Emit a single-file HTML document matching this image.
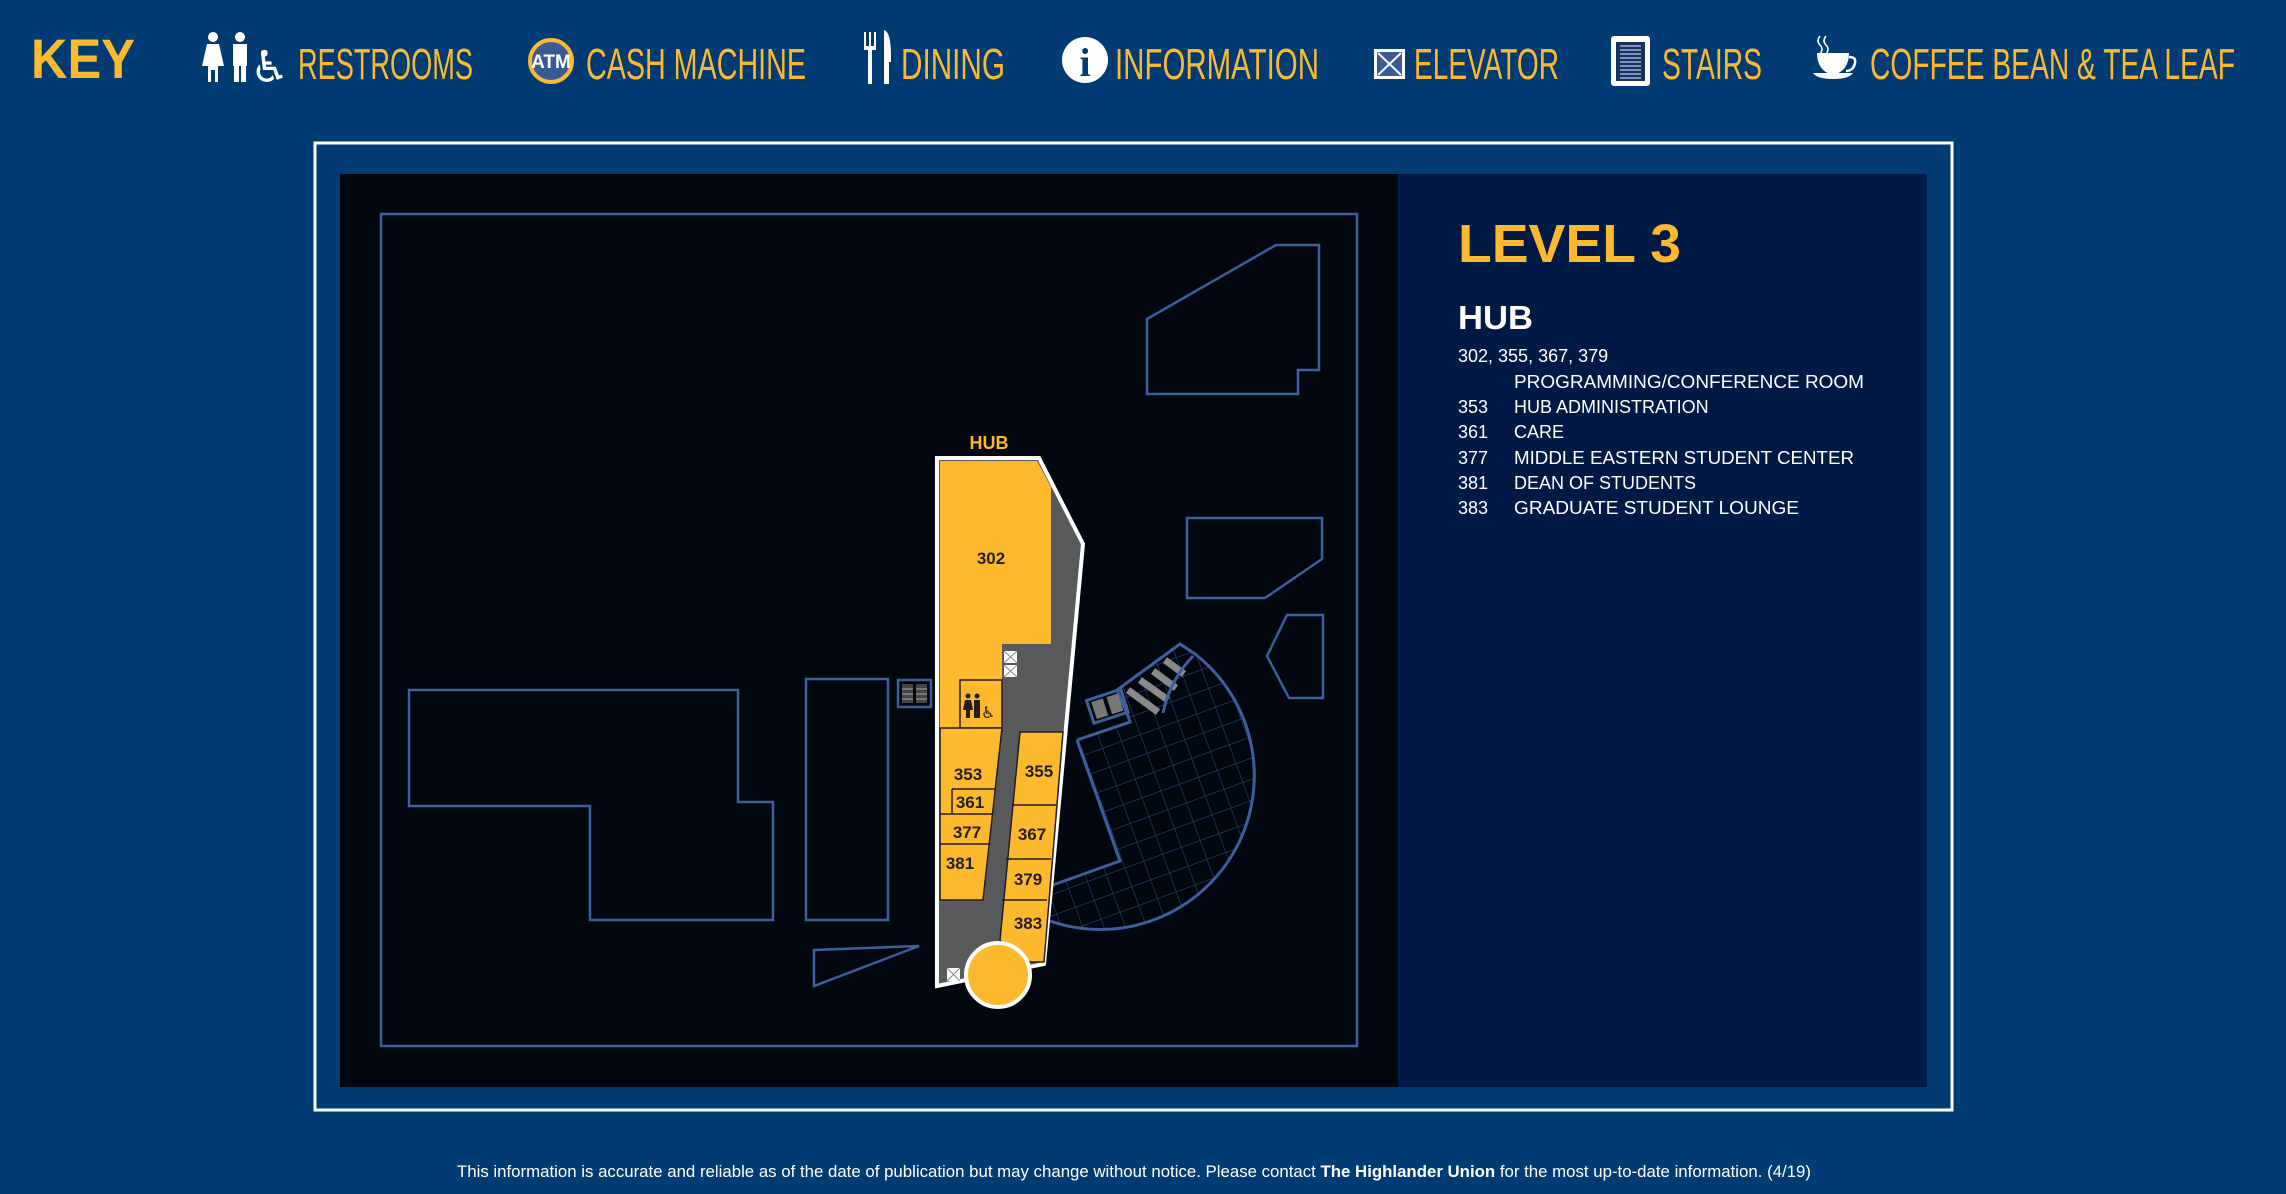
<!DOCTYPE html>
<html><head><meta charset="utf-8"><style>
html,body{margin:0;padding:0;background:#003c73;}
svg{display:block}
.hd{font-family:"Liberation Sans Narrow","Liberation Sans",sans-serif;fill:#fdb92e;font-size:44px}
.rm{font-family:"Liberation Sans",sans-serif;font-weight:bold;fill:#231f20;font-size:17px;text-anchor:middle}
.pl{font-family:"Liberation Sans",sans-serif;fill:#fff;font-size:18px}
</style></head><body>
<svg width="2286" height="1194" viewBox="0 0 2286 1194" xmlns="http://www.w3.org/2000/svg">
<defs>
<pattern id="grid" width="20" height="20" patternUnits="userSpaceOnUse" patternTransform="rotate(-20)">
<path d="M0 0H20M0 0V20" stroke="#2a4675" stroke-width="1.2" fill="none"/>
</pattern>
<clipPath id="pc"><path d="M1077,740 L1120,861 L1050,886 L1050,921 A154 154 0 0 0 1195,654 L1180,644 L1117,690 L1127,713 L1130,722 Z"/></clipPath>
</defs>
<rect width="2286" height="1194" fill="#003c73"/>

<!-- header -->
<text x="31" y="78" font-family="Liberation Sans,sans-serif" font-weight="bold" font-size="56" fill="#fdb92e" textLength="104" lengthAdjust="spacingAndGlyphs">KEY</text>
<g fill="#fff">
<circle cx="213" cy="37" r="5"/><path d="M207,44h12l5,22h-6v16h-3v-12h-4v12h-3v-16h-6z"/>
<circle cx="240" cy="37" r="5"/><rect x="233" y="44" width="14" height="22"/><rect x="234" y="62" width="5" height="20"/><rect x="241" y="62" width="5" height="20"/>
</g>
<text x="250" y="82" font-family="DejaVu Sans,sans-serif" font-size="44" fill="#fff">♿</text>
<text class="hd" x="298" y="79" textLength="175" lengthAdjust="spacingAndGlyphs">RESTROOMS</text>
<circle cx="551" cy="61" r="21" fill="#3a5a96" stroke="#fdb92e" stroke-width="4"/>
<text x="551" y="68" font-family="Liberation Sans Narrow,Liberation Sans,sans-serif" font-weight="bold" font-size="19" fill="#fff" text-anchor="middle">ATM</text>
<text class="hd" x="586" y="79" textLength="220" lengthAdjust="spacingAndGlyphs">CASH MACHINE</text>
<g fill="#fff"><rect x="864" y="32" width="2" height="16"/><rect x="869" y="32" width="2" height="16"/><rect x="874" y="32" width="2" height="16"/><path d="M864,46h12v4h-4v34h-4v-34h-4z"/><path d="M884,30q7,2 7,26v6h-2v22h-5z"/></g>
<text class="hd" x="901" y="79" textLength="104" lengthAdjust="spacingAndGlyphs">DINING</text>
<circle cx="1085" cy="60" r="23" fill="#fff"/>
<text x="1085" y="76" font-family="Liberation Serif,serif" font-weight="bold" font-size="40" fill="#003c73" text-anchor="middle">i</text>
<text class="hd" x="1115" y="79" textLength="204" lengthAdjust="spacingAndGlyphs">INFORMATION</text>
<rect x="1374" y="49" width="31" height="30" fill="#fff"/><rect x="1377" y="52" width="25" height="24" fill="#3a5a96"/><path d="M1378,53L1401,75M1401,53L1378,75" stroke="#fff" stroke-width="2"/>
<text class="hd" x="1414" y="79" textLength="145" lengthAdjust="spacingAndGlyphs">ELEVATOR</text>
<rect x="1611" y="36" width="39" height="50" rx="3" fill="#fff"/><rect x="1616" y="42" width="29" height="39" fill="#17325f"/>
<g stroke="#9fb3d8" stroke-width="1.5"><path d="M1620,46h21M1620,50h21M1620,54h21M1620,58h21M1620,62h21M1620,66h21M1620,70h21M1620,74h21M1620,78h21"/></g>
<text class="hd" x="1662" y="79" textLength="100" lengthAdjust="spacingAndGlyphs">STAIRS</text>
<path d="M1820,36q-4,5 0,9q4,4 0,9M1826,36q-4,5 0,9q4,4 0,9" stroke="#fff" stroke-width="1.5" fill="none"/>
<path d="M1817,53h32q0,18 -16,22q-16,-4 -16,-22z" fill="#fff"/><path d="M1849,57q10,0 4,11q-3,3 -7,3" stroke="#fff" stroke-width="2.5" fill="none"/>
<path d="M1813,73h40q-4,6 -20,6q-16,0 -20,-6z" fill="#fff"/>
<text class="hd" x="1870" y="79" textLength="365" lengthAdjust="spacingAndGlyphs">COFFEE BEAN &amp; TEA LEAF</text>

<!-- frame -->
<rect x="315" y="143" width="1637" height="967" fill="none" stroke="#fff" stroke-width="3"/>
<rect x="340" y="174" width="1058" height="913" fill="#02060e"/>
<rect x="1398" y="174" width="529" height="913" fill="#001a45"/>

<!-- outlines -->
<g fill="none" stroke="#3d5f9e" stroke-width="2.5">
<rect x="381" y="214" width="976" height="832"/>
<path d="M1147,319 L1276,245 L1319,245 L1319,370 L1298,370 L1298,394 L1147,394 Z"/>
<path d="M1187,518 L1322,518 L1322,559 L1265,598 L1187,598 Z"/>
<path d="M1287,615 L1323,615 L1323,698 L1289,698 L1267,656 Z"/>
<path d="M409,690 L738,690 L738,802 L773,802 L773,920 L590,920 L590,806 L409,806 Z"/>
<rect x="806" y="679" width="82" height="241"/>
<path d="M814,950 L919,946 L814,986 Z"/>
</g>
<!-- stairs left -->
<rect x="898" y="680" width="33" height="27" fill="none" stroke="#3d5f9e" stroke-width="2.5"/>
<rect x="902" y="684" width="11" height="19" fill="#444"/><rect x="916" y="684" width="11" height="19" fill="#444"/>
<g stroke="#aaa" stroke-width="1"><path d="M902,689h11M902,694h11M902,699h11M916,689h11M916,694h11M916,699h11"/></g>

<!-- plaza -->
<g clip-path="url(#pc)"><rect x="1040" y="630" width="230" height="320" fill="url(#grid)"/></g>
<g stroke="#8a8a8a" stroke-width="7"><path d="M1128,690 L1158,712M1140,680 L1168,700M1153,671 L1176,688M1165,660 L1184,674"/></g>
<path d="M1077,740 L1120,861 L1050,886 M1050,921 A154 154 0 0 0 1195,654 L1180,644 L1117,690 L1127,713 L1130,722 L1077,740" fill="none" stroke="#3d5f9e" stroke-width="3"/>
<path d="M1193,656 Q1170,680 1163,713" fill="none" stroke="#3d5f9e" stroke-width="3"/>
<g transform="rotate(-18 1108 705)">
<rect x="1089" y="694" width="36" height="24" fill="none" stroke="#3d5f9e" stroke-width="3"/>
<rect x="1093" y="697" width="12" height="18" fill="#777"/><rect x="1109" y="697" width="12" height="18" fill="#777"/>
</g>

<!-- hub -->
<path d="M937,458 L1039,458 L1083,544 L1044,964 L937,986 Z" fill="#58595b" stroke="#fff" stroke-width="4" stroke-linejoin="miter"/>
<path d="M940,461 L1037,461 L1051,487 L1051,644 L1002,644 L1002,728 L940,728 Z" fill="#fdb92e"/>
<rect x="960" y="680" width="42" height="48" fill="#fdb92e" stroke="#231f20" stroke-width="1.5"/>
<g fill="#231f20"><circle cx="968" cy="696" r="2.5"/><path d="M965,700h6l2,10h-3v8h-4v-8h-3z"/><circle cx="977" cy="696" r="2.5"/><rect x="974" y="700" width="6" height="18"/></g>
<text x="981" y="718" font-family="DejaVu Sans,sans-serif" font-size="16" fill="#231f20">♿</text>
<path d="M940,728 L1002,728 L983,900 L940,900 Z" fill="#fdb92e" stroke="#231f20" stroke-width="1.5"/>
<path d="M952,789 L995,789 M952,789 L952,814 M940,814 L993,814 M940,844 L989,844" stroke="#231f20" stroke-width="1.5" fill="none"/>
<path d="M1020,732 L1063,732 L1044,962 L1014,962 L1000,940 Z" fill="#fdb92e" stroke="#231f20" stroke-width="1.5"/>
<path d="M1012,805 L1056,805 M1006,859 L1051,859 M1002,900 L1047,900" stroke="#231f20" stroke-width="1.5"/>
<circle cx="998" cy="975" r="32" fill="#fdb92e" stroke="#fff" stroke-width="4"/>
<g fill="#fff"><rect x="1004" y="651" width="13" height="12"/><rect x="1004" y="665" width="13" height="12"/><rect x="947" y="968" width="13" height="13"/></g>
<g stroke="#888" stroke-width="1" fill="none"><path d="M1004,651L1017,663M1017,651L1004,663M1004,665L1017,677M1017,665L1004,677M947,968L960,981M960,968L947,981"/></g>
<text x="989" y="449" font-family="Liberation Sans,sans-serif" font-weight="bold" font-size="18" fill="#fdb92e" text-anchor="middle">HUB</text>
<text class="rm" x="991" y="564">302</text>
<text class="rm" x="968" y="780">353</text>
<text class="rm" x="970" y="808">361</text>
<text class="rm" x="967" y="838">377</text>
<text class="rm" x="960" y="869">381</text>
<text class="rm" x="1039" y="777">355</text>
<text class="rm" x="1032" y="840">367</text>
<text class="rm" x="1028" y="885">379</text>
<text class="rm" x="1028" y="929">383</text>

<!-- panel text -->
<text x="1458" y="262" font-family="Liberation Sans,sans-serif" font-weight="bold" font-size="54" fill="#fdb92e" textLength="223" lengthAdjust="spacingAndGlyphs">LEVEL 3</text>
<text x="1458" y="329" font-family="Liberation Sans,sans-serif" font-weight="bold" font-size="33" fill="#fff" textLength="75" lengthAdjust="spacingAndGlyphs">HUB</text>
<g class="pl">
<text x="1458" y="362">302, 355, 367, 379</text>
<text x="1514" y="388" textLength="350" lengthAdjust="spacingAndGlyphs">PROGRAMMING/CONFERENCE ROOM</text>
<text x="1458" y="413">353</text><text x="1514" y="413">HUB ADMINISTRATION</text>
<text x="1458" y="438">361</text><text x="1514" y="438">CARE</text>
<text x="1458" y="464">377</text><text x="1514" y="464" textLength="340" lengthAdjust="spacingAndGlyphs">MIDDLE EASTERN STUDENT CENTER</text>
<text x="1458" y="489">381</text><text x="1514" y="489">DEAN OF STUDENTS</text>
<text x="1458" y="514">383</text><text x="1514" y="514" textLength="285" lengthAdjust="spacingAndGlyphs">GRADUATE STUDENT LOUNGE</text>
</g>

<!-- footer -->
<text x="457" y="1177" font-family="Liberation Sans Narrow,Liberation Sans,sans-serif" font-size="17" fill="#fff" textLength="1354" lengthAdjust="spacingAndGlyphs">This information is accurate and reliable as of the date of publication but may change without notice. Please contact <tspan font-weight="bold">The Highlander Union</tspan> for the most up-to-date information. (4/19)</text>
</svg>
</body></html>
